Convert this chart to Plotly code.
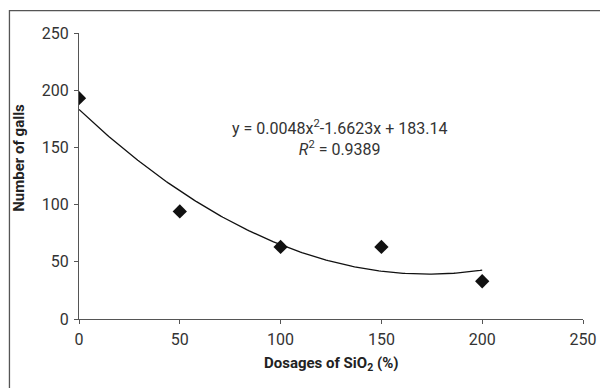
import numpy as np
import plotly.graph_objects as go

dosages = [0, 50, 100, 150, 200]
galls = [193, 94, 63, 63, 33]
trend_coeffs = [0.0048, -1.6623, 183.14]  # a x^2 + b x + c, as printed on the chart
r_squared = 0.9389
x_ticks = [0, 50, 100, 150, 200, 250]
y_ticks = [0, 50, 100, 150, 200, 250]

FONT = "Roboto, Liberation Sans, sans-serif"

xs = np.linspace(min(dosages), max(dosages), 200)
ys = np.polyval(trend_coeffs, xs)

fig = go.Figure()
fig.add_trace(go.Scatter(x=xs, y=ys, mode="lines",
                         line=dict(color="#111111", width=1.3),
                         hoverinfo="skip", showlegend=False))
fig.add_trace(go.Scatter(x=dosages, y=galls, mode="markers",
                         marker=dict(symbol="diamond", size=11, color="#111111"),
                         showlegend=False))

axis_common = dict(showgrid=False, zeroline=False, showline=True,
                   linecolor="#555555", linewidth=1,
                   ticks="outside", ticklen=4, tickcolor="#555555",
                   tickfont=dict(family=FONT, size=16, color="#333333"))

fig.update_xaxes(range=[0, 250], tickvals=x_ticks, ticklabelstandoff=2, **axis_common)
fig.update_yaxes(range=[0, 250], tickvals=y_ticks, ticklabelstandoff=2, **axis_common)

fig.add_annotation(xref="paper", yref="paper", x=0.5, y=-0.157,
                   xanchor="center", yanchor="middle", showarrow=False,
                   text="<b>Dosages of SiO<sub>2</sub> (%)</b>",
                   font=dict(family=FONT, size=15, color="#222222"))
fig.add_annotation(xref="paper", x=-0.119, yref="y", y=141, textangle=-90,
                   xanchor="center", yanchor="middle", showarrow=False,
                   text="<b>Number of galls</b>",
                   font=dict(family=FONT, size=15, color="#222222"))
eq_text = (f"y = {trend_coeffs[0]}x<sup>2</sup>{trend_coeffs[1]}x + {trend_coeffs[2]}"
           f"<br><i>R</i><sup>2</sup> = {r_squared}")
fig.add_annotation(x=129, y=158, xref="x", yref="y", showarrow=False,
                   text=eq_text, align="center", yanchor="middle",
                   font=dict(family=FONT, size=16, color="#333333"))

fig.add_shape(type="rect", xref="paper", yref="paper",
              x0=-0.138, x1=1.045, y0=-0.255, y1=1.078,
              line=dict(color="#555555", width=1.3), layer="below")

fig.update_layout(width=600, height=380,
                  margin=dict(l=71, r=18, t=25, b=69),
                  paper_bgcolor="white", plot_bgcolor="white",
                  font=dict(family=FONT))
fig.write_html("out.html")
